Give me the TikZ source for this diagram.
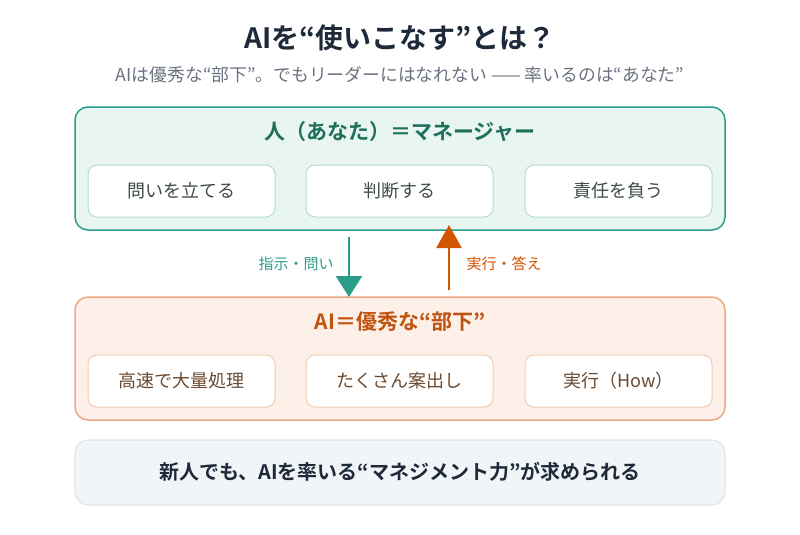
\documentclass[tikz,border=0pt]{standalone}
\usepackage{fontspec}
\setmainfont{Noto Sans CJK JP}[BoldFont={Noto Sans CJK JP Bold}]
\usetikzlibrary{arrows.meta}
\definecolor{navy}{HTML}{1E2A3A}
\definecolor{subgray}{HTML}{6B7280}
\definecolor{teal}{HTML}{2A9D8A}
\definecolor{tealdark}{HTML}{1F6F5C}
\definecolor{tealfill}{HTML}{E8F5F0}
\definecolor{tealline}{HTML}{B5DDD0}
\definecolor{orng}{HTML}{D35400}
\definecolor{orngdark}{HTML}{C0530E}
\definecolor{orngfill}{HTML}{FDF0E8}
\definecolor{orngborder}{HTML}{EBA883}
\definecolor{orngline}{HTML}{F2CDB2}
\definecolor{graytext}{HTML}{3D4A47}
\definecolor{browntext}{HTML}{6B4A30}
\definecolor{footfill}{HTML}{F1F5F7}
\definecolor{footline}{HTML}{DEE4E8}
\tikzset{
  panel/.style={rounded corners=13pt, line width=1.5pt},
  itembox/.style={draw, fill=white, rounded corners=9pt, line width=1pt, minimum width=187pt, minimum height=52pt, font=\fontsize{18}{21}\selectfont},
  lbl/.style={font=\fontsize{15}{18}\selectfont},
}
\begin{document}
\begin{tikzpicture}[x=1pt,y=-1pt]
\useasboundingbox (0,0) rectangle (800,535);
\node[font=\fontsize{28}{32}\selectfont\bfseries, text=navy] (title) at (400,38) {AIを“使いこなす”とは？};
\node[font=\fontsize{17.8}{21}\selectfont, text=subgray] (sub) at (400,75) {AIは優秀な“部下”。でもリーダーにはなれない —— 率いるのは“あなた”};
% top panel
\draw[panel, draw=teal, fill=tealfill] (75,107) rectangle (725,230);
\node[font=\fontsize{21}{24}\selectfont\bfseries, text=tealdark] (toptitle) at (400,132) {人（あなた）＝マネージャー};
\node[itembox, draw=tealline, text=graytext] (t1) at (181.5,191) {問いを立てる};
\node[itembox, draw=tealline, text=graytext] (t2) at (399.5,191) {判断する};
\node[itembox, draw=tealline, text=graytext] (t3) at (618.5,191) {責任を負う};
% bottom panel
\draw[panel, draw=orngborder, fill=orngfill] (75,297) rectangle (725,420);
\node[font=\fontsize{21}{24}\selectfont\bfseries, text=orngdark] (bottitle) at (400,322) {AI＝優秀な“部下”};
\node[itembox, draw=orngline, text=browntext] (b1) at (181.5,381) {高速で大量処理};
\node[itembox, draw=orngline, text=browntext] (b2) at (399.5,381) {たくさん案出し};
\node[itembox, draw=orngline, text=browntext] (b3) at (618.5,381) {実行（How）};
% arrows
\coordinate (dA) at (349,237);
\coordinate (dB) at (349,297);
\coordinate (uA) at (449,290);
\coordinate (uB) at (449,225);
\draw[teal, line width=2.5pt, -{Triangle[length=21pt,width=26pt]}] (dA) -- (dB);
\draw[orng, line width=2.5pt, -{Triangle[length=23pt,width=25pt]}] (uA) -- (uB);
\node[lbl, text=teal] (lblL) at (296,264) {指示・問い};
\node[lbl, text=orng] (lblR) at (504,264) {実行・答え};
% footer
\draw[panel, line width=1.2pt, draw=footline, fill=footfill] (75,440) rectangle (725,505);
\node[font=\fontsize{20}{23}\selectfont\bfseries, text=navy] (foot) at (400,472) {新人でも、AIを率いる“マネジメント力”が求められる};
\end{tikzpicture}
\end{document}
